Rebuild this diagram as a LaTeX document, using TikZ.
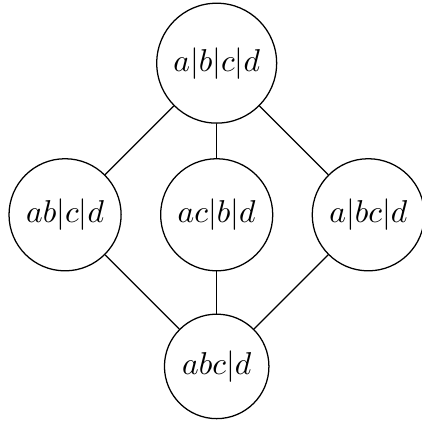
\documentclass[tikz,border=0pt]{standalone}
\usetikzlibrary{positioning}

\begin{document}
\begin{tikzpicture}[
part/.style={draw, circle}]
\useasboundingbox (-68.6pt,-65.2pt) rectangle (65pt,68pt);
\node[part] (ac) at (0,0) {$ac|b|d$};
\node[part] (top) at (0,48pt) {$a|b|c|d$};
\node[part] (ab) at (-48pt,0) {$ab|c|d$};
\node[part] (bc) at (48pt,0) {$a|bc|d$};
\node[part] (bot) at (0,-48pt) {$abc|d$};
\draw (top) -- (ab);
\draw (top) -- (ac);
\draw (top) -- (bc);
\draw (ab) -- (bot);
\draw (ac) -- (bot);
\draw (bc) -- (bot);
\end{tikzpicture}
\end{document}
